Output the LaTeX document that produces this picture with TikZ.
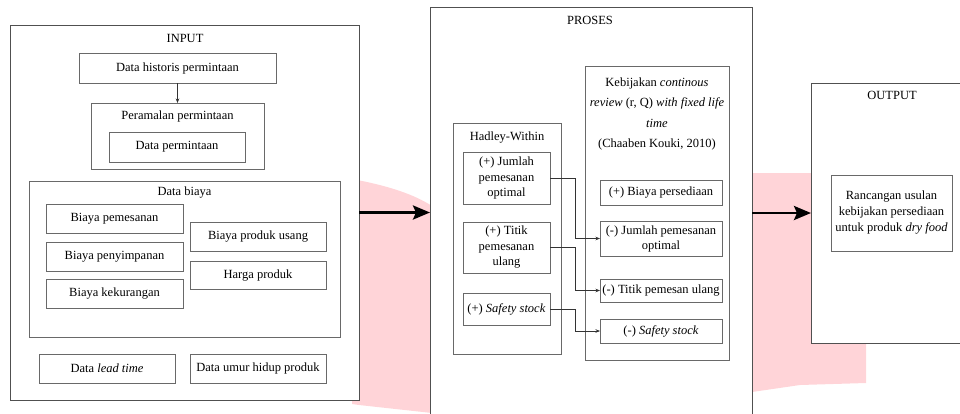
\documentclass[tikz,border=0pt]{standalone}
\usepackage{fontspec}
\setmainfont{Liberation Serif}
\usetikzlibrary{arrows.meta}
\definecolor{blush}{RGB}{255,212,216}
\definecolor{framegray}{RGB}{80,80,80}
\definecolor{boxgray}{RGB}{105,105,105}
\newcommand{\txt}{\fontsize{12.5}{15.5}\selectfont}
\tikzset{
  panel/.style={fill=white, draw=framegray, line width=0.9pt, inner sep=0pt, outer sep=0pt},
  openpanel/.style={fill=white, draw=none, inner sep=0pt, outer sep=0pt},
  frameline/.style={draw=framegray, line width=0.9pt},
  box/.style={fill=white, draw=boxgray, line width=0.9pt, inner sep=0pt, outer sep=0pt, align=center, font=\txt},
  title/.style={font=\txt, inner sep=0pt, align=center},
  link/.style={draw=black!80, line width=0.6pt, -{Stealth[length=4.5pt,width=3.5pt]}},
  bigarrow/.style={line width=2.8pt, -{Stealth[length=17pt,width=14pt,inset=3pt]}},
}
\begin{document}
\begin{tikzpicture}[x=1pt,y=-1pt]
\clip (0,0) rectangle (960,413);

% soft pink bands behind the panels
\fill[blush] (352,179) .. controls (390,186) and (415,195) .. (432,206)
  -- (432,413) -- (359,405) -- (352,404) -- cycle;
\fill[blush] (752,173) -- (866,173) -- (866,383) -- (800,385) -- (752,392) -- cycle;

% ---------- INPUT ----------
\node[panel, minimum width=349pt, minimum height=375pt] (input) at (184.5,212.5) {};
\node[title] (intitle) at (185,38) {INPUT};
\node[box, minimum width=197pt, minimum height=30pt] (hist) at (177.5,68) {Data historis permintaan};
\node[box, minimum width=173pt, minimum height=66pt] (ramal) at (177.5,136) {};
\node[title] (ramaltitle) at (177.5,116) {Peramalan permintaan};
\node[box, minimum width=136pt, minimum height=30pt] (dataper) at (177,147) {Data permintaan};
\draw[link] (hist) -- (ramal);

\node[box, minimum width=311pt, minimum height=156pt] (biaya) at (184.5,259) {};
\node[title] (biayatitle) at (184.5,193) {Data biaya};
\node[box, minimum width=137pt, minimum height=29pt] (pesan) at (114.5,218.5) {Biaya pemesanan};
\node[box, minimum width=137pt, minimum height=29pt] (simpan) at (114.5,256.5) {Biaya penyimpanan};
\node[box, minimum width=137pt, minimum height=29pt] (kurang) at (114.5,293.5) {Biaya kekurangan};
\node[box, minimum width=136pt, minimum height=29pt] (usang) at (258,236.5) {Biaya produk usang};
\node[box, minimum width=136pt, minimum height=28pt] (harga) at (258,275.5) {Harga produk};

\node[box, minimum width=136pt, minimum height=29pt] (lead) at (107,368.5) {Data \textit{lead time}};
\node[box, minimum width=136pt, minimum height=29pt] (umur) at (258,368.5) {Data umur hidup produk};

% ---------- PROSES ----------
\node[openpanel, minimum width=322pt, minimum height=420pt] (proses) at (591,217) {};
\draw[frameline] (proses.south west) |- (proses.north east) -- (proses.south east);
\node[title] (prostitle) at (590,20) {PROSES};

\node[box, minimum width=108pt, minimum height=231pt] (hadley) at (507,238.5) {};
\node[title] (hadleytitle) at (507,138) {Hadley-Within};
\node[box, minimum width=87pt, minimum height=52pt] (hq) at (506.5,178) {(+) Jumlah\\pemesanan\\optimal};
\node[box, minimum width=87pt, minimum height=51pt] (hr) at (506.5,247.5) {(+) Titik\\pemesanan\\ulang};
\node[box, minimum width=87pt, minimum height=32pt] (hs) at (506.5,309) {(+) \textit{Safety stock}};

\node[box, minimum width=144pt, minimum height=294pt] (kouki) at (657,213) {};
\node[title, font=\fontsize{12.5}{20.4}\selectfont] (koukititle) at (657,114)
  {Kebijakan \textit{continous}\\\textit{review} (r, Q) \textit{with fixed life}\\\textit{time}\\(Chaaben Kouki, 2010)};
\node[box, minimum width=122pt, minimum height=25pt] (kc) at (661,192.5) {(+) Biaya persediaan};
\node[box, minimum width=122pt, minimum height=35pt, font=\fontsize{12.5}{15}\selectfont] (kq) at (661,238.5) {(-) Jumlah pemesanan\\optimal};
\node[box, minimum width=122pt, minimum height=23pt] (kr) at (661,290.5) {(-) Titik pemesan ulang};
\node[box, minimum width=122pt, minimum height=24pt] (ks) at (661,331) {(-) \textit{Safety stock}};

\draw[link] (hq.east) -- ++(25,0) |- (kq.west);
\draw[link] (hr.east) -- ++(25,0) |- (kr.west);
\draw[link] (hs.east) -- ++(25,0) |- (ks.west);

% ---------- OUTPUT ----------
\node[openpanel, minimum width=162pt, minimum height=260pt] (output) at (892,213) {};
\draw[frameline] (output.north east) -- (output.north west) -- (output.south west) -- (output.south east);
\node[title] (outtitle) at (892,95) {OUTPUT};
\node[box, minimum width=121pt, minimum height=76pt, font=\fontsize{12.5}{16}\selectfont] (rancang) at (891.5,213)
  {Rancangan usulan\\kebijakan persediaan\\untuk produk \textit{dry food}};

% ---------- flow between the stages ----------
\draw[bigarrow] (input.east) -- (input.east -| proses.west);
\draw[bigarrow] (output.west -| proses.east) -- (output.west);
\end{tikzpicture}
\end{document}
